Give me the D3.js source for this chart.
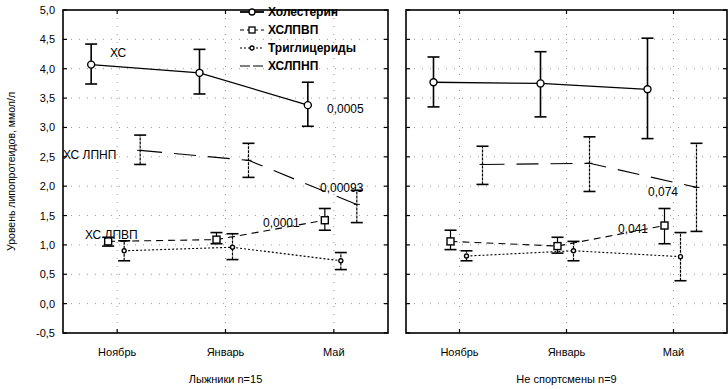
<!DOCTYPE html>
<html>
<head>
<meta charset="utf-8">
<script src="https://cdn.jsdelivr.net/npm/d3@7"></script>
<style>
  body { margin: 0; background: #fff; }
  text { font-family: "Liberation Sans", Arial, sans-serif; fill: #000; }
</style>
</head>
<body>
<div id="chart"></div>
<script>
// months and y ticks
var months = ["Ноябрь", "Январь", "Май"];
var yTicks = [-0.5, 0, 0.5, 1, 1.5, 2, 2.5, 3, 3.5, 4, 4.5, 5];

// Лыжники n=15 : mean, low, high
var skiChol   = [4.07, 3.93, 3.38], skiCholLo = [3.74, 3.57, 3.02], skiCholHi = [4.42, 4.33, 3.77];
var skiHdl    = [1.06, 1.09, 1.42], skiHdlLo  = [0.98, 1.02, 1.25], skiHdlHi  = [1.13, 1.21, 1.62];
var skiTg     = [0.90, 0.96, 0.73], skiTgLo   = [0.73, 0.75, 0.58], skiTgHi   = [1.07, 1.19, 0.87];
var skiLdl    = [2.61, 2.44, 1.69], skiLdlLo  = [2.37, 2.15, 1.38], skiLdlHi  = [2.87, 2.73, 1.93];

// Не спортсмены n=9
var conChol   = [3.77, 3.75, 3.65], conCholLo = [3.35, 3.18, 2.81], conCholHi = [4.20, 4.29, 4.52];
var conHdl    = [1.06, 0.98, 1.33], conHdlLo  = [0.92, 0.86, 1.02], conHdlHi  = [1.25, 1.13, 1.62];
var conTg     = [0.81, 0.90, 0.80], conTgLo   = [0.73, 0.73, 0.39], conTgHi   = [0.90, 1.06, 1.21];
var conLdl    = [2.37, 2.39, 1.98], conLdlLo  = [2.03, 1.91, 1.23], conLdlHi  = [2.68, 2.84, 2.73];

var legendNames = ["Холестерин", "ХСЛПВП", "Триглицериды", "ХСЛПНП"];

var W = 728, H = 389;
var yTop = 10, yBot = 333;

var svg = d3.select("#chart").append("svg")
  .attr("width", W).attr("height", H);

var y = d3.scaleLinear().domain([-0.5, 5]).range([yBot, yTop]);
var fmt = function (v) { return d3.format(".1f")(v).replace(".", ",").replace("−", "-"); };

// series styles (offset from the month centre)
var styles = [
  { off: -26, dash: null,    marker: "circle", r: 3.5 },
  { off: -9,  dash: "7,5",   marker: "square", r: 3.5 },
  { off: 7,   dash: "2,2",   marker: "circle", r: 2 },
  { off: 23,  dash: "22,12", marker: "none",   r: 0 }
];

var panels = [
  { x0: 63, x1: 388, title: "Лыжники n=15",
    series: [[skiChol, skiCholLo, skiCholHi], [skiHdl, skiHdlLo, skiHdlHi], [skiTg, skiTgLo, skiTgHi], [skiLdl, skiLdlLo, skiLdlHi]] },
  { x0: 406, x1: 727, title: "Не спортсмены n=9",
    series: [[conChol, conCholLo, conCholHi], [conHdl, conHdlLo, conHdlHi], [conTg, conTgLo, conTgHi], [conLdl, conLdlLo, conLdlHi]] }
];

panels.forEach(function (p, pi) {
  var x = d3.scaleBand().domain(months).range([p.x0, p.x1]);
  var cx = function (m) { return x(m) + x.bandwidth() / 2; };
  var g = svg.append("g");

  // grid
  g.selectAll(".hg").data(yTicks.slice(1, -1)).enter().append("line")
    .attr("x1", p.x0).attr("x2", p.x1)
    .attr("y1", function (d) { return y(d); }).attr("y2", function (d) { return y(d); })
    .attr("stroke", "#999").attr("stroke-width", 1).attr("stroke-dasharray", "1,7");
  g.selectAll(".vg").data(months).enter().append("line")
    .attr("x1", cx).attr("x2", cx).attr("y1", yTop).attr("y2", yBot)
    .attr("stroke", "#999").attr("stroke-width", 1).attr("stroke-dasharray", "1,7");

  // frame
  g.append("rect").attr("x", p.x0).attr("y", yTop)
    .attr("width", p.x1 - p.x0).attr("height", yBot - yTop)
    .attr("fill", "none").attr("stroke", "#000").attr("stroke-width", 1.6);

  // inner ticks
  g.selectAll(".lt").data(yTicks).enter().append("line")
    .attr("x1", p.x0).attr("x2", p.x0 + 4)
    .attr("y1", function (d) { return y(d); }).attr("y2", function (d) { return y(d); })
    .attr("stroke", "#000").attr("stroke-width", 1.2);
  g.selectAll(".rt").data(yTicks).enter().append("line")
    .attr("x1", p.x1).attr("x2", p.x1 - 4)
    .attr("y1", function (d) { return y(d); }).attr("y2", function (d) { return y(d); })
    .attr("stroke", "#000").attr("stroke-width", 1.2);
  g.selectAll(".tt").data(months).enter().append("line")
    .attr("x1", cx).attr("x2", cx).attr("y1", yTop).attr("y2", yTop + 4)
    .attr("stroke", "#000").attr("stroke-width", 1.2);
  g.selectAll(".bt").data(months).enter().append("line")
    .attr("x1", cx).attr("x2", cx).attr("y1", yBot).attr("y2", yBot - 4)
    .attr("stroke", "#000").attr("stroke-width", 1.2);

  // x labels
  g.selectAll(".xl").data(months).enter().append("text")
    .attr("x", cx).attr("y", 356).attr("text-anchor", "middle")
    .attr("font-size", 11).text(function (d) { return d; });
  g.append("text").attr("x", (p.x0 + p.x1) / 2).attr("y", 383)
    .attr("text-anchor", "middle").attr("font-size", 11).text(p.title);

  // series
  p.series.forEach(function (s, si) {
    var st = styles[si];
    var pts = months.map(function (m, i) {
      return { x: cx(m) + st.off, m: s[0][i], lo: s[1][i], hi: s[2][i] };
    });
    var line = d3.line().x(function (d) { return d.x; }).y(function (d) { return y(d.m); });
    g.append("path").datum(pts).attr("d", line)
      .attr("fill", "none").attr("stroke", "#000").attr("stroke-width", si === 0 ? 1.3 : 1.1)
      .attr("stroke-dasharray", st.dash);

    var eb = g.selectAll(".eb" + si).data(pts).enter().append("g");
    eb.append("line").attr("x1", function (d) { return d.x; }).attr("x2", function (d) { return d.x; })
      .attr("y1", function (d) { return y(d.lo); }).attr("y2", function (d) { return y(d.hi); })
      .attr("stroke", "#000").attr("stroke-width", si === 0 ? 1.6 : 1.2)
      .attr("stroke-dasharray", si >= 2 ? "3,1" : null);
    ["lo", "hi"].forEach(function (k) {
      eb.append("line").attr("x1", function (d) { return d.x - 6; }).attr("x2", function (d) { return d.x + 6; })
        .attr("y1", function (d) { return y(d[k]); }).attr("y2", function (d) { return y(d[k]); })
        .attr("stroke", "#000").attr("stroke-width", 1.6);
    });
    if (st.marker === "circle") {
      eb.append("circle").attr("cx", function (d) { return d.x; }).attr("cy", function (d) { return y(d.m); })
        .attr("r", st.r).attr("fill", "#fff").attr("stroke", "#000").attr("stroke-width", 1.4);
    } else if (st.marker === "square") {
      eb.append("rect").attr("x", function (d) { return d.x - st.r; }).attr("y", function (d) { return y(d.m) - st.r; })
        .attr("width", st.r * 2).attr("height", st.r * 2)
        .attr("fill", "#fff").attr("stroke", "#000").attr("stroke-width", 1.4);
    } else {
      eb.append("line").attr("x1", function (d) { return d.x - 3; }).attr("x2", function (d) { return d.x + 3; })
        .attr("y1", function (d) { return y(d.m); }).attr("y2", function (d) { return y(d.m); })
        .attr("stroke", "#000").attr("stroke-width", 1);
    }
  });
});

// y axis labels
svg.selectAll(".yl").data(yTicks).enter().append("text")
  .attr("x", 55).attr("y", function (d) { return y(d) + 4; })
  .attr("text-anchor", "end").attr("font-size", 11).text(fmt);
svg.append("text")
  .attr("transform", "translate(15," + (yTop + yBot) / 2 + ") rotate(-90)")
  .attr("text-anchor", "middle").attr("font-size", 10.5)
  .text("Уровень липопротеидов, ммол/л");

// annotations
var notes = [
  ["ХС", 110, 57], ["ХС ЛПНП", 63, 159], ["ХС ЛПВП", 85, 239],
  ["0,0005", 327, 113], ["0,00093", 320, 192], ["0,0001", 263, 227],
  ["0,074", 648, 196], ["0,041", 618, 233]
];
svg.selectAll(".note").data(notes).enter().append("text")
  .attr("x", function (d) { return d[1]; }).attr("y", function (d) { return d[2]; })
  .attr("font-size", 12).text(function (d) { return d[0]; });

// legend
var lg = svg.append("g");
legendNames.forEach(function (name, i) {
  var st = styles[i];
  var ly = 12 + i * 18;
  lg.append("line").attr("x1", 240).attr("x2", 264).attr("y1", ly).attr("y2", ly)
    .attr("stroke", "#000").attr("stroke-width", i === 0 ? 1.8 : 1.2)
    .attr("stroke-dasharray", i === 3 ? "10,3" : st.dash === "7,5" ? "4,3" : st.dash);
  if (st.marker === "circle") {
    lg.append("circle").attr("cx", 252).attr("cy", ly).attr("r", st.r === 2 ? 2 : 3)
      .attr("fill", "#fff").attr("stroke", "#000").attr("stroke-width", 1.3);
  } else if (st.marker === "square") {
    lg.append("rect").attr("x", 249).attr("y", ly - 3).attr("width", 6).attr("height", 6)
      .attr("fill", "#fff").attr("stroke", "#000").attr("stroke-width", 1.3);
  }
  lg.append("text").attr("x", 268).attr("y", ly + 4).attr("font-size", 12)
    .attr("font-weight", "bold").text(name);
});
</script>
</body>
</html>
